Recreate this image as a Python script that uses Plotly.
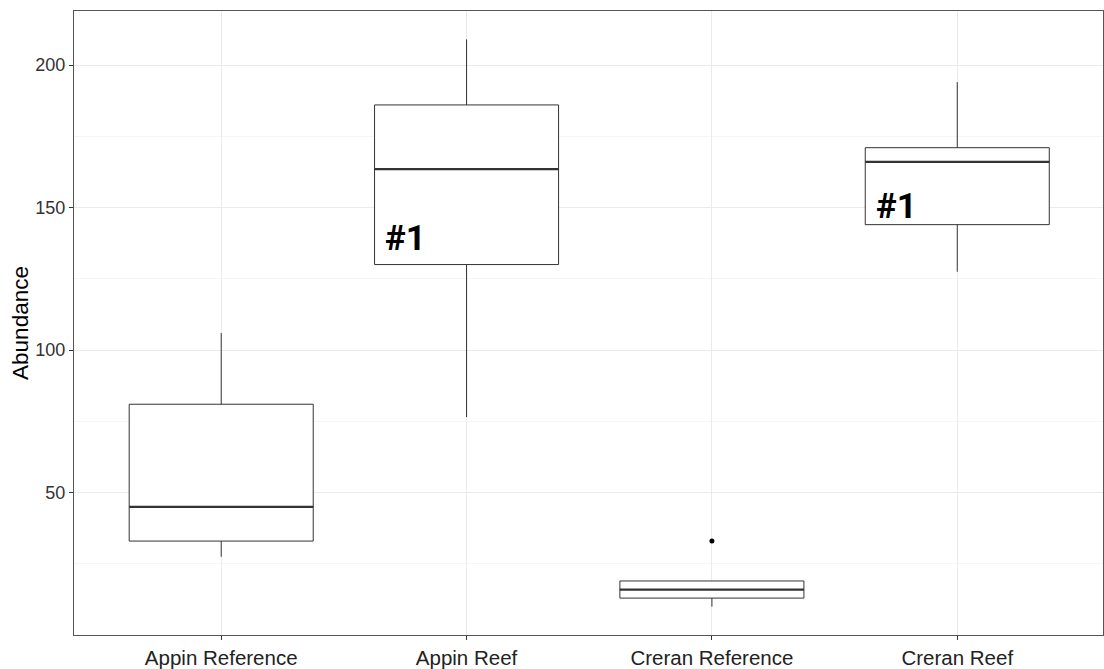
import plotly.graph_objects as go

categories = ["Appin Reference", "Appin Reef", "Creran Reference", "Creran Reef"]
lower_whisker = [27.5, 76.5, 10.0, 127.5]
q1_vals = [33.0, 130.0, 13.0, 144.0]
median_vals = [45.0, 163.5, 16.0, 166.0]
q3_vals = [81.0, 186.0, 19.0, 171.0]
upper_whisker = [106.0, 209.0, 19.0, 194.0]
outlier_cat = ["Creran Reference"]
outlier_vals = [33.0]
label_cats = ["Appin Reef", "Creran Reef"]
label_vals = [139.0, 150.5]
label_texts = ["#1", "#1"]
y_ticks = [50, 100, 150, 200]
y_minor = [25, 75, 125, 175]

pos = list(range(len(categories)))
box_w = 0.75
idx = {c: i for i, c in enumerate(categories)}
FONT = "Arial, Liberation Sans"
LABEL_FONT = "Roboto"

fig = go.Figure()
fig.add_trace(go.Box(
    x=pos, q1=q1_vals, median=median_vals, q3=q3_vals,
    lowerfence=lower_whisker, upperfence=upper_whisker,
    width=box_w, whiskerwidth=0, boxpoints=False,
    fillcolor="white", line=dict(color="#333333", width=1),
    showlegend=False, hoverinfo="skip",
))
fig.add_trace(go.Scatter(
    x=[idx[c] for c in outlier_cat], y=outlier_vals, mode="markers",
    marker=dict(color="black", size=5), showlegend=False, hoverinfo="skip",
))

for i, m in enumerate(median_vals):
    fig.add_shape(type="line", xref="x", yref="y",
                  x0=i - box_w / 2, x1=i + box_w / 2, y0=m, y1=m,
                  line=dict(color="#333333", width=2.2))

for c, v, t in zip(label_cats, label_vals, label_texts):
    fig.add_annotation(x=idx[c] - box_w / 2 + 0.035, y=v, text=t,
                       xref="x", yref="y", xanchor="left", yanchor="middle",
                       showarrow=False,
                       font=dict(family=LABEL_FONT, size=35, color="black", weight="bold"))

span = max(upper_whisker + outlier_vals) - min(lower_whisker)
y_lo = min(lower_whisker) - 0.05 * span
y_hi = max(upper_whisker + outlier_vals) + 0.05 * span

fig.update_layout(
    width=1104, height=669,
    margin=dict(l=74, r=0, t=11, b=28),
    paper_bgcolor="white", plot_bgcolor="white",
    font=dict(family=FONT, color="#333333"),
    xaxis=dict(
        range=[-0.6, 3.594], tickvals=pos, ticktext=categories,
        tickfont=dict(family=FONT, size=20.5, color="#222222"),
        showgrid=True, gridcolor="#EBEBEB", gridwidth=1,
        ticks="outside", ticklen=4, tickcolor="#333333",
        showline=True, mirror=True, linecolor="#555555", linewidth=1,
        zeroline=False,
    ),
    yaxis=dict(
        range=[y_lo, y_hi], tickvals=y_ticks,
        tickfont=dict(family=FONT, size=18, color="#333333"),
        showgrid=True, gridcolor="#EBEBEB", gridwidth=1,
        minor=dict(tickvals=y_minor, showgrid=True, gridcolor="#F6F6F6", ticklen=0),
        ticks="outside", ticklen=4, tickcolor="#333333",
        showline=True, mirror=True, linecolor="#555555", linewidth=1,
        zeroline=False,
        title=dict(text="Abundance", font=dict(family=FONT, size=22.5, color="black"), standoff=0),
    ),
)

fig.write_html("out.html")
